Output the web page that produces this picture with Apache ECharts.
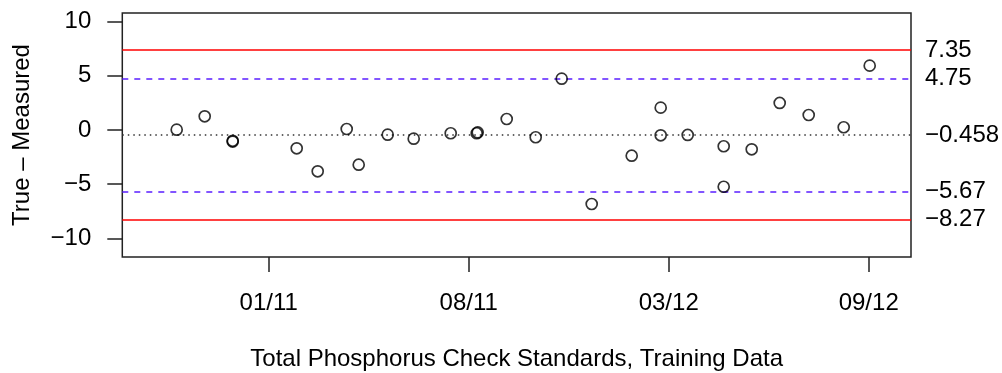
<!DOCTYPE html>
<html>
<head>
<meta charset="utf-8">
<script src="https://cdn.jsdelivr.net/npm/echarts@6/dist/echarts.min.js"></script>
<style>html,body{margin:0;padding:0;background:#fff}#c{width:1002px;height:373px}</style>
</head>
<body>
<div id="c"></div>
<script>
// ---- data ----
const sampleDates = [
  '2010-10-26','2010-11-23','2010-12-21','2010-12-21','2011-02-23','2011-03-16',
  '2011-04-14','2011-04-26','2011-05-25','2011-06-20','2011-07-27','2011-08-23',
  '2011-08-22','2011-09-21','2011-10-20','2011-11-15','2011-12-15','2012-01-24',
  '2012-02-22','2012-02-22','2012-03-20','2012-04-25','2012-04-25','2012-05-23',
  '2012-06-20','2012-07-19','2012-08-23','2012-09-18'
];
const differences = [
  0.03, 1.26, -1.00, -1.07, -1.69, -3.81,
  0.09, -3.20, -0.43, -0.80, -0.30, -0.22,
  -0.30, 1.01, -0.67, 4.73, -6.82, -2.37,
  2.06, -0.49, -0.46, -1.50, -5.23, -1.78,
  2.49, 1.38, 0.25, 5.93
];
const controlLimits = [7.35, -8.27];      // red solid
const warningLimits = [4.75, -5.67];      // blue dashed
const centerLine = [-0.458];              // dotted
const rightLabelValues = [7.35, 4.75, -0.458, -5.67, -8.27];
const rightLabelTexts = ['7.35', '4.75', '\u22120.458', '\u22125.67', '\u22128.27'];
const yTicks = [-10, -5, 0, 5, 10];
const xTickDates = ['2011-01-26', '2011-08-14', '2012-03-01', '2012-09-17'];
const xTickLabels = ['01/11', '08/11', '03/12', '09/12'];
const xTitle = 'Total Phosphorus Check Standards, Training Data';
const yTitle = 'True \u2013 Measured';

// ---- helpers ----
const toDay = s => Date.parse(s + 'T00:00:00Z') / 86400000;
const points = sampleDates.map((d, i) => [toDay(d), differences[i]]);
const xTickDays = xTickDates.map(toDay);
const minus = v => String(v).replace('-', '\u2212');

const FONT = "'Liberation Sans', Arial, sans-serif";
const FS = 24;

const markData = []
  .concat(controlLimits.map(v => ({yAxis: v, lineStyle: {color: '#ff0000', width: 1.5, type: 'solid'}})))
  .concat(warningLimits.map(v => ({yAxis: v, lineStyle: {color: '#5a1eff', width: 1.5, type: [6, 6]}})))
  .concat(centerLine.map(v => ({yAxis: v, lineStyle: {color: '#333', width: 1.5, type: [1.5, 4]}})));

const chart = echarts.init(document.getElementById('c'), null, {renderer: 'canvas'});
chart.setOption({
  animation: false,
  textStyle: {fontFamily: FONT},
  grid: {
    left: 122.3, right: 91, top: 13, bottom: 116,
    show: true, borderColor: '#222', borderWidth: 1.5,
    containLabel: false, outerBoundsMode: 'none'
  },
  xAxis: {
    type: 'value', min: 14853.6, max: 15642.3,
    axisLine: {show: false, onZero: false},
    splitLine: {show: false},
    axisTick: {show: true, customValues: xTickDays, length: 15, lineStyle: {color: '#222', width: 1.5}},
    axisLabel: {
      customValues: xTickDays, margin: 34, fontSize: FS, color: '#000', fontFamily: FONT,
      formatter: v => xTickLabels[xTickDays.indexOf(v)]
    },
    name: xTitle, nameLocation: 'middle', nameGap: 90,
    nameTextStyle: {fontSize: FS, color: '#000', fontFamily: FONT}
  },
  yAxis: [{
    type: 'value', min: -11.705, max: 10.78,
    axisLine: {show: false, onZero: false},
    splitLine: {show: false},
    axisTick: {show: true, customValues: yTicks, length: 15, lineStyle: {color: '#222', width: 1.5}},
    axisLabel: {customValues: yTicks, margin: 31, fontSize: FS, color: '#000', fontFamily: FONT, formatter: v => minus(v)},
    name: yTitle, nameLocation: 'middle', nameRotate: 90, nameGap: 88,
    nameTextStyle: {fontSize: FS, color: '#000', fontFamily: FONT}
  }, {
    type: 'value', position: 'right', min: -11.705, max: 10.78,
    axisLine: {show: false, onZero: false},
    splitLine: {show: false},
    axisTick: {show: false},
    axisLabel: {
      customValues: rightLabelValues, margin: 14, fontSize: FS, color: '#000', fontFamily: FONT,
      formatter: v => rightLabelTexts[rightLabelValues.indexOf(v)]
    }
  }],
  series: [{
    type: 'scatter',
    data: points,
    symbol: 'circle',
    symbolSize: 11,
    itemStyle: {color: 'rgba(0,0,0,0)', borderColor: '#000', borderWidth: 1.7},
    z: 5,
    markLine: {
      silent: true, symbol: 'none', label: {show: false},
      data: markData, z: 2
    }
  }]
});
</script>
</body>
</html>
